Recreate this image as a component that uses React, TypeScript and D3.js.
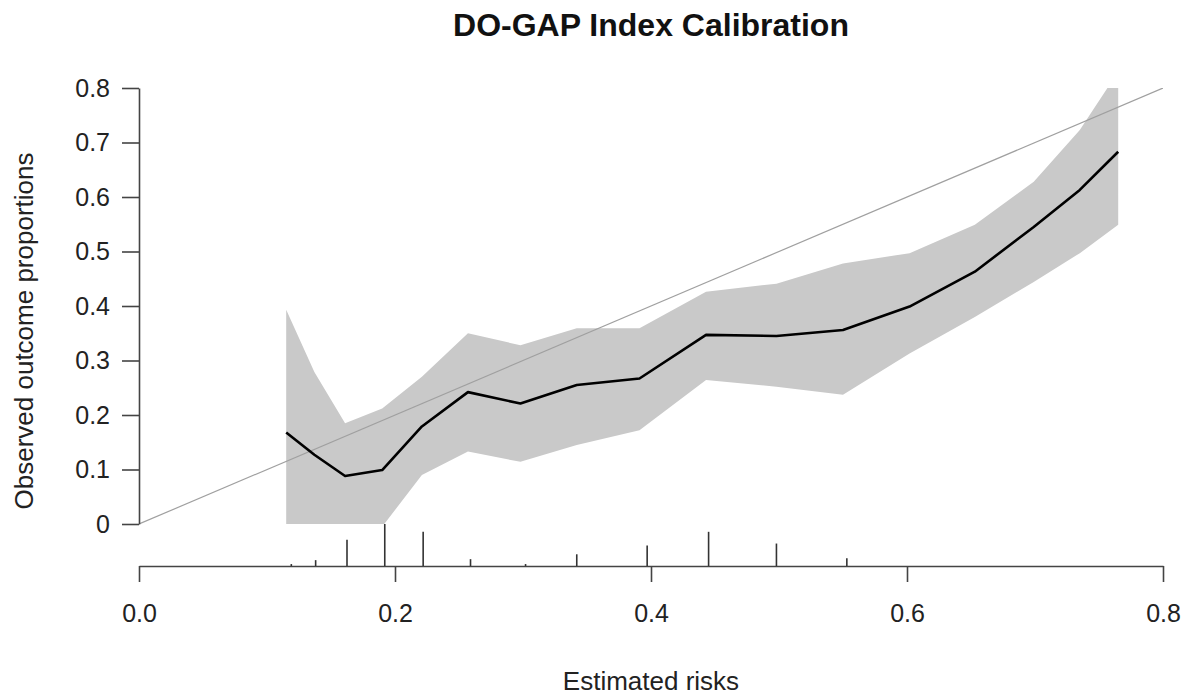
import React, { useEffect, useRef } from 'react';
import * as d3 from 'd3';

// calibration curve (estimated risk -> observed proportion) with confidence band
const riskGroups = [0.115, 0.137, 0.161, 0.19, 0.221, 0.257, 0.298, 0.342, 0.391, 0.443, 0.498, 0.55, 0.602, 0.653, 0.699, 0.735, 0.765];
const observed = [0.168, 0.127, 0.088, 0.099, 0.179, 0.242, 0.221, 0.255, 0.267, 0.347, 0.345, 0.356, 0.399, 0.463, 0.545, 0.613, 0.683];
const upperCI = [0.393, 0.279, 0.185, 0.212, 0.27, 0.35, 0.328, 0.359, 0.359, 0.426, 0.441, 0.478, 0.497, 0.549, 0.628, 0.723, 0.83];
const lowerCI = [-0.05, -0.05, -0.05, -0.005, 0.09, 0.133, 0.114, 0.145, 0.172, 0.264, 0.252, 0.237, 0.313, 0.38, 0.444, 0.497, 0.549];

// distribution of predicted risks (rug under the plot)
const rugRisk = [0.119, 0.138, 0.1625, 0.192, 0.222, 0.259, 0.302, 0.342, 0.397, 0.445, 0.498, 0.553];
const rugFreq = [2, 6, 27, 43, 35, 7, 2, 12, 21, 35, 23, 8];

const xTicks = [0, 0.2, 0.4, 0.6, 0.8];
const yTicks = [0, 0.1, 0.2, 0.3, 0.4, 0.5, 0.6, 0.7, 0.8];

const FONT = '"Liberation Sans", Arial, Helvetica, sans-serif';

export default function App() {
	const node = useRef<SVGSVGElement | null>(null);

	useEffect(() => {
		const svg = d3.select(node.current);
		svg.selectAll('*').remove();

		const left = 139;
		const right = 1163;
		const top = 88;
		const bottom = 524;
		const axisY = 566;

		const x = d3.scaleLinear().domain([0, 0.8]).range([left, right]);
		const y = d3.scaleLinear().domain([0, 0.8]).range([bottom, top]);
		const rugH = d3.scaleLinear().domain([0, d3.max(rugFreq) as number]).range([0, axisY - bottom]);

		// clip to plot region
		svg.append('defs').append('clipPath')
			.attr('id', 'plot-clip')
			.append('rect')
			.attr('x', left)
			.attr('y', top)
			.attr('width', right - left)
			.attr('height', bottom - top);

		const plot = svg.append('g').attr('clip-path', 'url(#plot-clip)');

		const idx = d3.range(riskGroups.length);

		// confidence band
		const band = d3.area<number>()
			.x(i => x(riskGroups[i]))
			.y0(i => y(lowerCI[i]))
			.y1(i => y(upperCI[i]));

		plot.append('path')
			.datum(idx)
			.attr('d', band)
			.attr('fill', '#c9c9c9');

		// ideal line
		plot.append('line')
			.attr('x1', x(0))
			.attr('y1', y(0))
			.attr('x2', x(0.8))
			.attr('y2', y(0.8))
			.attr('stroke', '#a0a0a0')
			.attr('stroke-width', 1.2);

		// observed curve
		const line = d3.line<number>()
			.x(i => x(riskGroups[i]))
			.y(i => y(observed[i]));

		plot.append('path')
			.datum(idx)
			.attr('d', line)
			.attr('fill', 'none')
			.attr('stroke', '#000')
			.attr('stroke-width', 2.6)
			.attr('stroke-linejoin', 'round');

		// y axis
		const yAxis = d3.axisLeft(y)
			.tickValues(yTicks)
			.tickSize(17)
			.tickSizeOuter(0)
			.tickPadding(12)
			.tickFormat(d => (+d === 0 ? '0' : d3.format('.1f')(+d)));

		const gy = svg.append('g')
			.attr('transform', `translate(${left},0)`)
			.call(yAxis);

		// x axis (offset below plot)
		const xAxis = d3.axisBottom(x)
			.tickValues(xTicks)
			.tickSize(16)
			.tickSizeOuter(0)
			.tickPadding(22)
			.tickFormat(d3.format('.1f'));

		const gx = svg.append('g')
			.attr('transform', `translate(0,${axisY})`)
			.call(xAxis);

		[gx, gy].forEach((g) => {
			g.select('.domain').attr('stroke', '#444').attr('stroke-width', 1.6);
			g.selectAll('.tick line').attr('stroke', '#444').attr('stroke-width', 1.6);
			g.selectAll('.tick text')
				.attr('fill', '#222')
				.style('font-family', FONT)
				.style('font-size', '25px');
		});

		// rug of predicted risks
		svg.append('g')
			.selectAll('line')
			.data(rugRisk)
			.enter()
			.append('line')
			.attr('x1', d => x(d))
			.attr('x2', d => x(d))
			.attr('y1', axisY)
			.attr('y2', (d, i) => axisY - rugH(rugFreq[i]))
			.attr('stroke', '#333')
			.attr('stroke-width', 1.6);

		// title and labels
		svg.append('text')
			.attr('x', (left + right) / 2)
			.attr('y', 36)
			.attr('text-anchor', 'middle')
			.style('font-family', FONT)
			.style('font-size', '32px')
			.style('font-weight', 'bold')
			.attr('fill', '#111')
			.text('DO-GAP Index Calibration');

		svg.append('text')
			.attr('x', (left + right) / 2)
			.attr('y', 690)
			.attr('text-anchor', 'middle')
			.style('font-family', FONT)
			.style('font-size', '26px')
			.attr('fill', '#222')
			.text('Estimated risks');

		svg.append('text')
			.attr('transform', 'translate(33,331) rotate(-90)')
			.attr('text-anchor', 'middle')
			.style('font-family', FONT)
			.style('font-size', '26px')
			.attr('fill', '#222')
			.text('Observed outcome proportions');
	}, []);

	return (
		<svg
			ref={node}
			width={1188}
			height={696}
			style={{ position: 'absolute', left: 0, top: 0, background: '#fff' }}
		/>
	);
}
